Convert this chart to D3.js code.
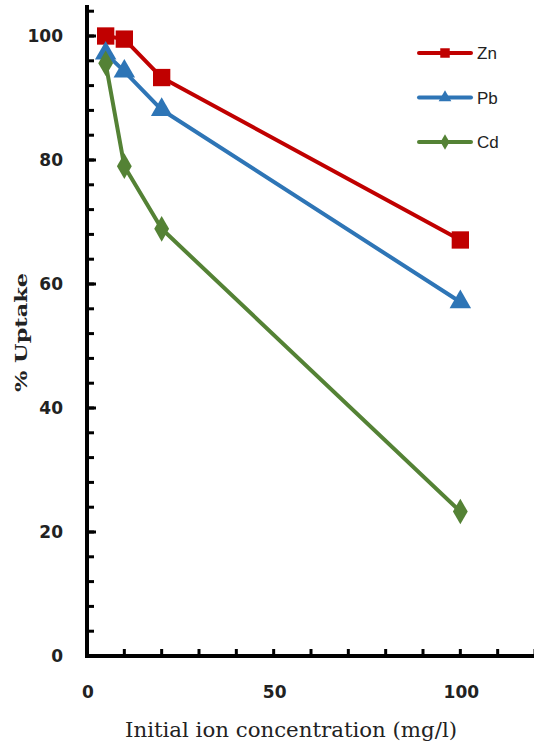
<!DOCTYPE html>
<html><head><meta charset="utf-8">
<script src="https://cdn.jsdelivr.net/npm/d3@7"></script>
<style>body{margin:0;background:#fff}</style>
</head><body>
<svg id="c" width="534" height="744"></svg>
<script>
const concentrations = [5, 10, 20, 100];
const znValues = [100, 99.5, 93.3, 67.1];
const pbValues = [97.2, 94.3, 88.1, 57.1];
const cdValues = [95.6, 79.0, 68.9, 23.3];
const seriesNames = ["Zn", "Pb", "Cd"];
const xTickLabels = [0, 50, 100];
const yTickLabels = [0, 20, 40, 60, 80, 100];

const series = [
  {name: seriesNames[0], values: znValues, color: "#C00000", symbol: d3.symbolSquare, size: 300, lsize: 90},
  {name: seriesNames[1], values: pbValues, color: "#2E75B6", symbol: d3.symbolTriangle, size: 200, lsize: 70},
  {name: seriesNames[2], values: cdValues, color: "#548235", symbol: d3.symbolDiamond, size: 190, lsize: 70}
];

const svg = d3.select("#c");
const x = d3.scaleLinear().domain([0, 120]).range([87, 535]);
const y = d3.scaleLinear().domain([0, 105]).range([656, 5]);

svg.append("line").attr("x1", x(0)).attr("x2", x(0)).attr("y1", y(105)).attr("y2", y(0) + 2)
  .attr("stroke", "#000").attr("stroke-width", 4);
svg.append("line").attr("x1", x(0) - 2).attr("x2", x(120)).attr("y1", y(0)).attr("y2", y(0))
  .attr("stroke", "#000").attr("stroke-width", 4);

const yMinor = d3.range(4, 105, 4);
svg.selectAll(".ym").data(yMinor).enter().append("line")
  .attr("x1", x(0)).attr("x2", x(0) + 7).attr("y1", d => y(d)).attr("y2", d => y(d))
  .attr("stroke", "#000").attr("stroke-width", 3);
svg.selectAll(".yM").data(yTickLabels).enter().append("line")
  .attr("x1", x(0)).attr("x2", x(0) + 9).attr("y1", d => y(d)).attr("y2", d => y(d))
  .attr("stroke", "#000").attr("stroke-width", 3);
svg.selectAll(".yl").data(yTickLabels).enter().append("text")
  .attr("x", 63).attr("y", d => y(d)).attr("dy", "0.36em")
  .attr("text-anchor", "end").attr("font-family", "DejaVu Sans").attr("font-weight", "bold")
  .attr("font-size", 17).attr("fill", "#222").text(d => d);

const xMinor = d3.range(10, 121, 10);
svg.selectAll(".xm").data(xMinor).enter().append("line")
  .attr("x1", d => x(d)).attr("x2", d => x(d)).attr("y1", y(0)).attr("y2", y(0) - 7)
  .attr("stroke", "#000").attr("stroke-width", 3);
svg.selectAll(".xl").data(xTickLabels).enter().append("text")
  .attr("x", d => x(d) + 1).attr("y", 698)
  .attr("text-anchor", "middle").attr("font-family", "DejaVu Sans").attr("font-weight", "bold")
  .attr("font-size", 17).attr("fill", "#222").text(d => d);

svg.append("text").attr("x", 125).attr("y", 737)
  .attr("font-family", "DejaVu Serif").attr("font-size", 20).attr("fill", "#222")
  .attr("textLength", 332).attr("lengthAdjust", "spacingAndGlyphs")
  .text("Initial ion concentration (mg/l)");
svg.append("text").attr("transform", "translate(27,392) rotate(-90)")
  .attr("font-family", "DejaVu Serif").attr("font-weight", "bold").attr("font-size", 17).attr("fill", "#222")
  .attr("textLength", 119).attr("lengthAdjust", "spacingAndGlyphs")
  .text("% Uptake");

const line = d3.line().x(d => x(d[0])).y(d => y(d[1]));
series.forEach(s => {
  const pts = concentrations.map((c, i) => [c, s.values[i]]);
  svg.append("path").attr("d", line(pts)).attr("fill", "none")
    .attr("stroke", s.color).attr("stroke-width", 4).attr("stroke-linejoin", "round");
  svg.selectAll(null).data(pts).enter().append("path")
    .attr("d", d3.symbol().type(s.symbol).size(s.size))
    .attr("transform", d => `translate(${x(d[0])},${y(d[1])})`)
    .attr("fill", s.color);
});

const lg = svg.append("g");
series.forEach((s, i) => {
  const ly = 53 + i * 44.5;
  lg.append("line").attr("x1", 419).attr("x2", 471).attr("y1", ly).attr("y2", ly)
    .attr("stroke", s.color).attr("stroke-width", 4).attr("stroke-linecap", "round");
  lg.append("path").attr("d", d3.symbol().type(s.symbol).size(s.lsize))
    .attr("transform", `translate(445,${ly})`).attr("fill", s.color);
  lg.append("text").attr("x", 477).attr("y", ly).attr("dy", "0.36em")
    .attr("font-family", "Liberation Sans").attr("font-size", 17).attr("fill", "#222").text(s.name);
});
</script>
</body></html>
